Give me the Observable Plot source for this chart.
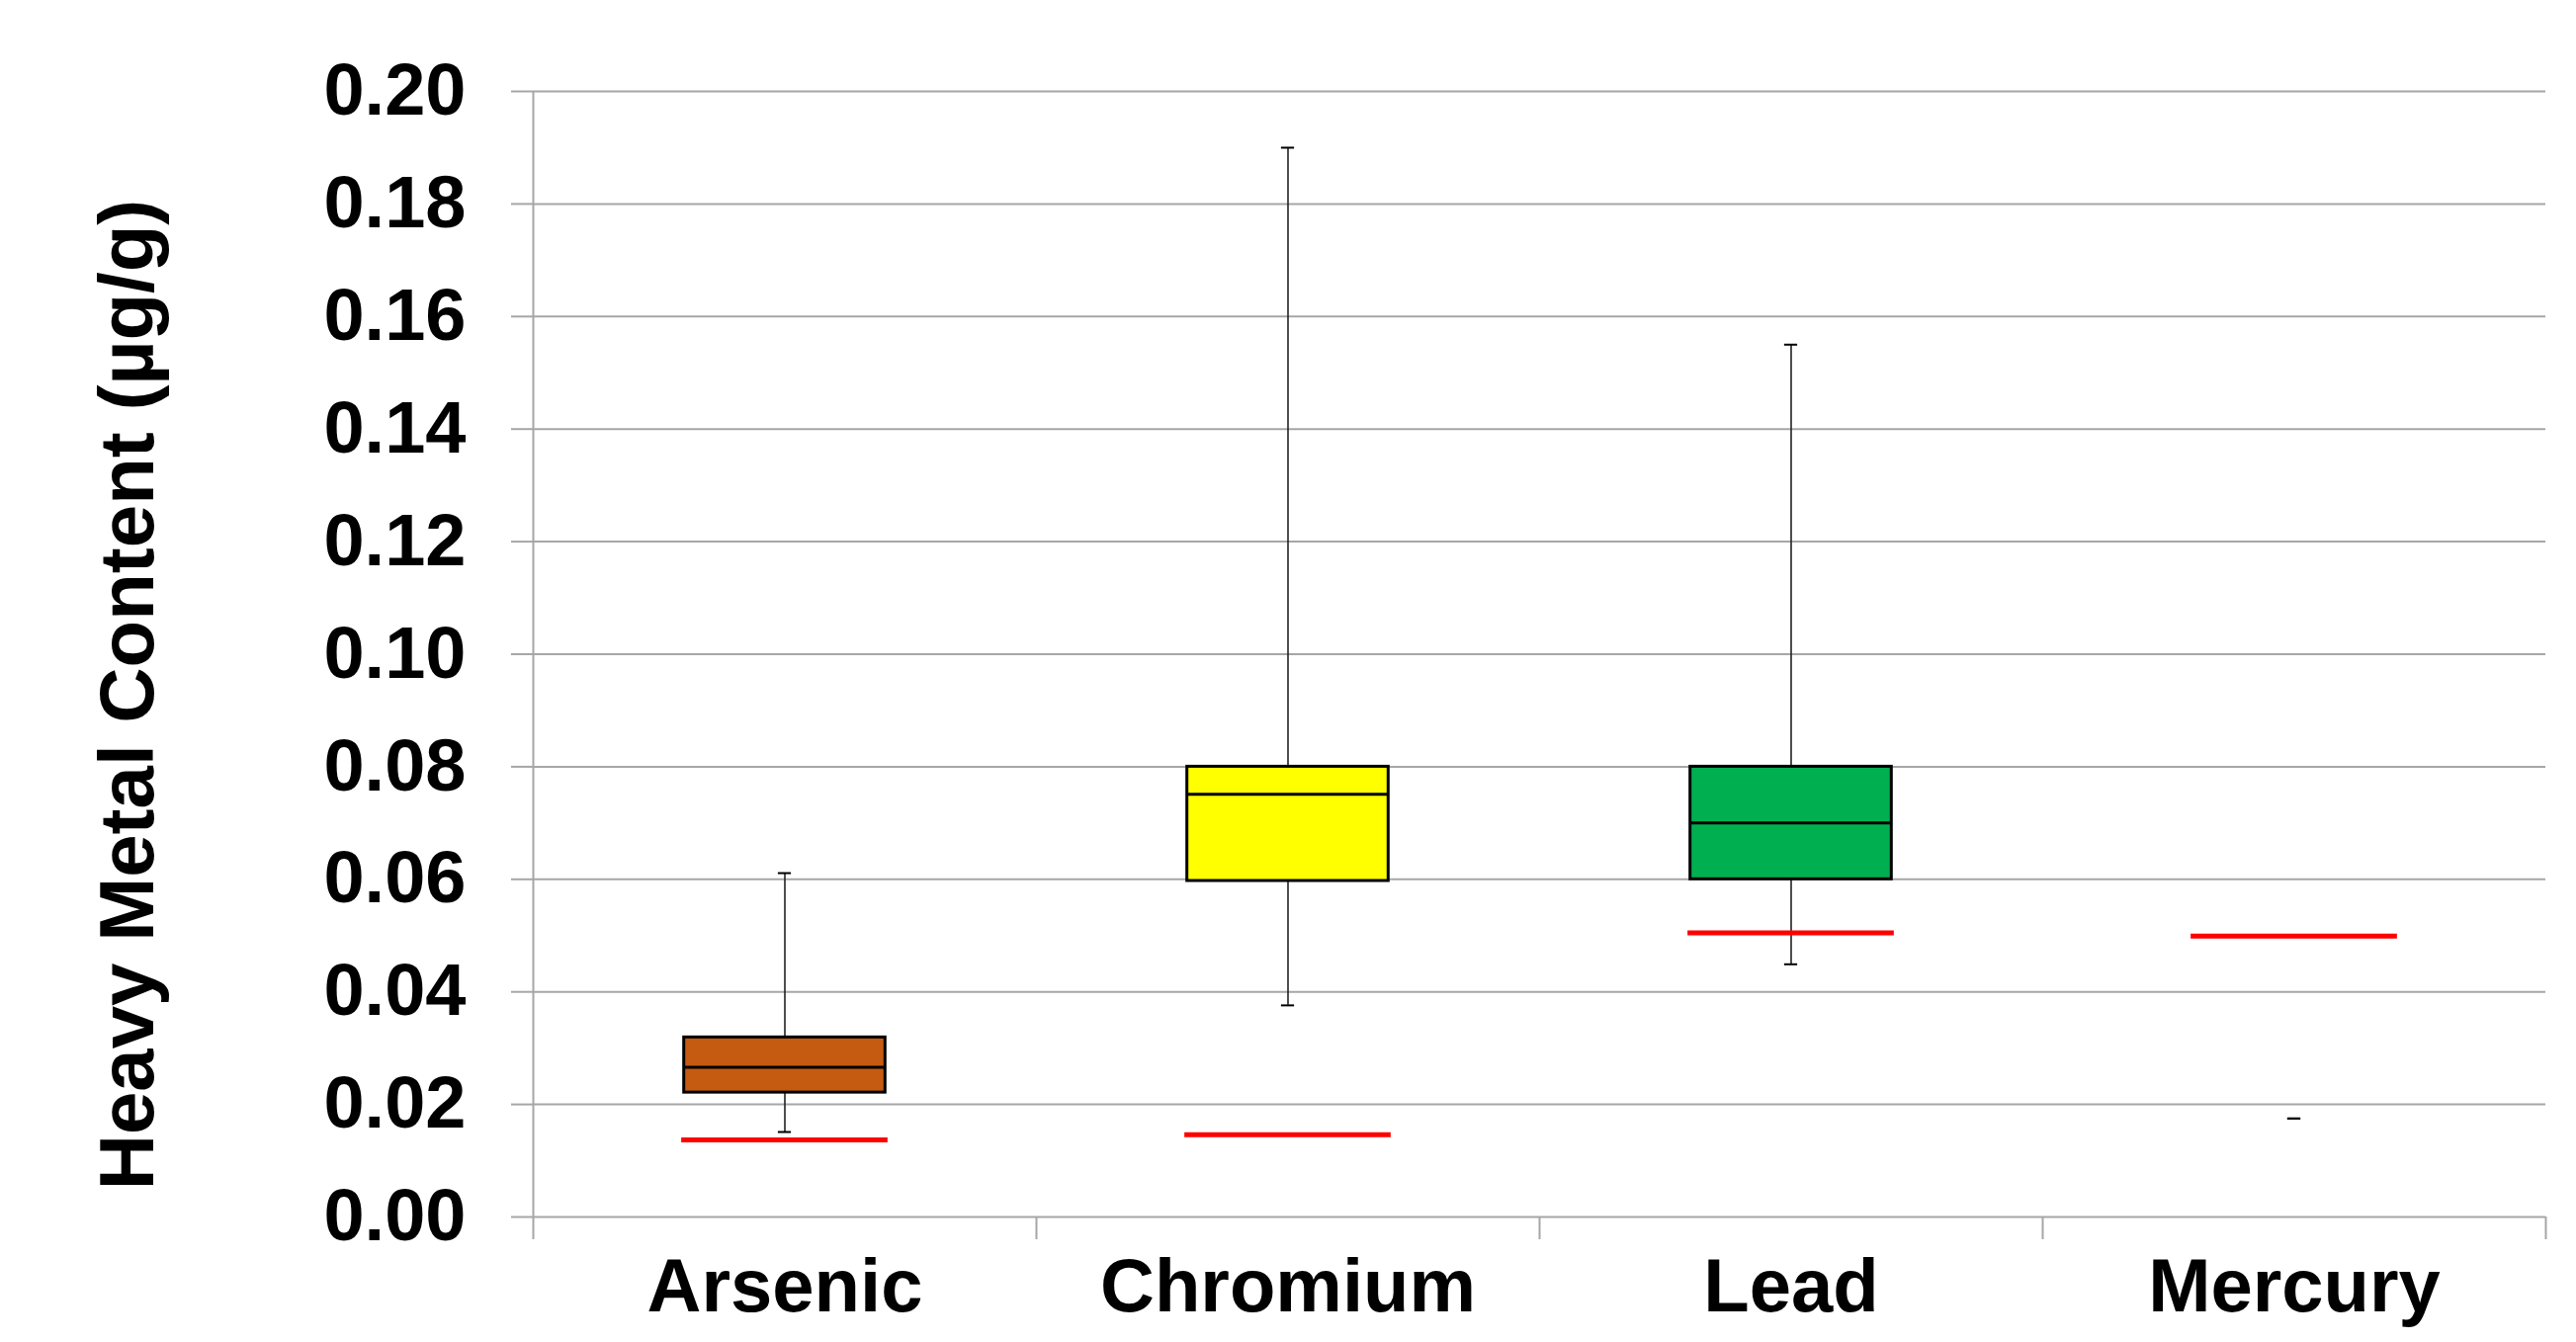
<!DOCTYPE html>
<html><head><meta charset="utf-8">
<script src="https://cdn.jsdelivr.net/npm/d3@7"></script>
<script src="https://cdn.jsdelivr.net/npm/@observablehq/plot@0.6"></script>
<style>html,body{margin:0;padding:0;background:#fff;} svg{display:block}</style>
</head><body><div id="chart"></div>
<script>
const categories = ["Arsenic", "Chromium", "Lead", "Mercury"];
const whiskerLow = [0.0151, 0.0376, 0.0449, 0.0175];
const q1 = [0.0221, 0.0597, 0.0600, null];
const median = [0.0266, 0.0751, 0.0700, null];
const q3 = [0.0319, 0.0800, 0.0800, null];
const whiskerHigh = [0.0611, 0.1900, 0.1550, 0.0175];
const limits = [0.0137, 0.0146, 0.0505, 0.0499];
const fills = ["#C55A11", "#FFFF00", "#00B050", "#A6A6A6"];
const yTicks = [0, 0.02, 0.04, 0.06, 0.08, 0.10, 0.12, 0.14, 0.16, 0.18, 0.20];
const yTitle = "Heavy Metal Content (µg/g)";

const rows = categories.map((name, i) => ({
  name, pos: i + 0.5,
  lo: whiskerLow[i], q1: q1[i], med: median[i], q3: q3[i], hi: whiskerHigh[i],
  limit: limits[i], fill: fills[i]
}));
const boxes = rows.filter(d => d.q1 != null);
const caps = rows.flatMap(d => [{pos: d.pos, v: d.lo}, {pos: d.pos, v: d.hi}]);
const boundaries = d3.range(categories.length + 1);
const centers = categories.map((c, i) => i + 0.5);

const BOX = 0.2, CAP = 0.013, LIM = 0.205;
const GRID = "#A6A6A6";

const chart = Plot.plot({
  width: 2606, height: 1358,
  marginTop: 92, marginBottom: 127, marginLeft: 539, marginRight: 31,
  style: {fontFamily: "'Liberation Sans', Arial, sans-serif", fontWeight: "bold", background: "#fff", color: "#000"},
  x: {domain: [0, categories.length]},
  y: {domain: [0, 0.2]},
  color: {type: "identity"},
  marks: [
    Plot.ruleY(yTicks, {stroke: GRID, strokeWidth: 2}),
    Plot.axisY(yTicks, {tickSize: 22, tickPadding: 46, tickFormat: d3.format(".2f"), fontSize: 74, fontWeight: "bold", stroke: GRID, strokeWidth: 2, fill: "#000", label: null}),
    Plot.ruleX([0], {y1: 0, y2: 0.2, stroke: GRID, strokeWidth: 2}),
    Plot.axisX(boundaries, {tickSize: 23, tickFormat: () => "", stroke: GRID, strokeWidth: 2, label: null}),
    Plot.axisX(centers, {tickSize: 0, tickPadding: 42, tickFormat: v => categories[Math.floor(v)], fontSize: 76, fontWeight: "bold", fill: "#000", label: null}),
    Plot.ruleX(rows, {x: "pos", y1: "lo", y2: "hi", stroke: "#222", strokeWidth: 1.6}),
    Plot.rectY(boxes, {x1: d => d.pos - BOX, x2: d => d.pos + BOX, y1: "q1", y2: "q3", fill: "fill", stroke: "#000", strokeWidth: 3}),
    Plot.ruleY(boxes, {y: "med", x1: d => d.pos - BOX, x2: d => d.pos + BOX, stroke: "#000", strokeWidth: 3}),
    Plot.ruleY(caps, {y: "v", x1: d => d.pos - CAP, x2: d => d.pos + CAP, stroke: "#000", strokeWidth: 2}),
    Plot.ruleY(rows, {y: "limit", x1: d => d.pos - LIM, x2: d => d.pos + LIM, stroke: "#FF0000", strokeWidth: 5}),
    Plot.text([yTitle], {text: d => d, frameAnchor: "left", rotate: -90, dx: -409, dy: 41, fontSize: 78, fontWeight: "bold", textAnchor: "middle", fill: "#000"})
  ]
});
document.getElementById("chart").appendChild(chart);
</script>
</body></html>
